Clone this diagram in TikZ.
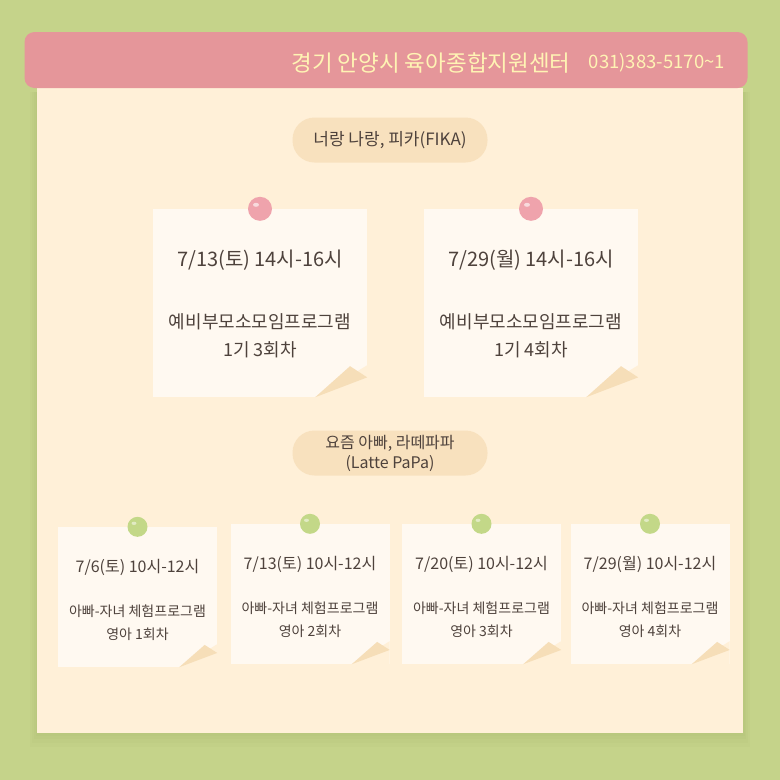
\documentclass[tikz,border=0pt]{standalone}
\usepackage{fontspec}
\setmainfont{Noto Sans CJK KR}
\usetikzlibrary{positioning}

\definecolor{bggreen}{HTML}{C5D38A}
\definecolor{shadowgreen}{HTML}{9FAE62}
\definecolor{panelcol}{HTML}{FFF0D8}
\definecolor{headpink}{HTML}{E5969A}
\definecolor{headtext}{HTML}{FFF4B4}
\definecolor{tagcol}{HTML}{F8E1BE}
\definecolor{notecol}{HTML}{FFF9F1}
\definecolor{foldcol}{HTML}{F6DEB8}
\definecolor{inkcol}{HTML}{4E423C}
\definecolor{pinpinkcol}{HTML}{EFA3AC}
\definecolor{pingreencol}{HTML}{C3D888}

\begin{document}
\begin{tikzpicture}[x=1pt, y=-1pt, node distance=10pt]
\tikzset{header/.style={fill=headpink, rounded corners=10pt, minimum width=723pt, minimum height=56pt},
        headname/.style={text=headtext, font=\fontsize{22.5}{26}\selectfont, inner sep=0pt},
        headphone/.style={text=headtext, font=\fontsize{18.5}{22}\selectfont, inner sep=0pt},
        tag/.style={fill=tagcol, rounded corners=22pt, minimum width=195pt, minimum height=45pt,
          align=center, text=inkcol, font=\fontsize{17}{20}\selectfont},
        bignote/.style={fill=notecol, minimum width=214pt, minimum height=188pt, inner sep=0pt},
        smallnote/.style={fill=notecol, minimum width=159pt, minimum height=140pt, inner sep=0pt},
        bigdate/.style={text=inkcol, font=\fontsize{20}{24}\selectfont, inner sep=0pt},
        bigdesc/.style={text=inkcol, align=center, font=\fontsize{18}{28}\selectfont, inner sep=0pt},
        smalldate/.style={text=inkcol, font=\fontsize{16}{19}\selectfont, inner sep=0pt},
        smalldesc/.style={text=inkcol, align=center, font=\fontsize{14}{23}\selectfont, inner sep=0pt},
        pinpink/.style={circle, fill=pinpinkcol, minimum size=24pt, inner sep=0pt},
        pingreen/.style={circle, fill=pingreencol, minimum size=20pt, inner sep=0pt},
        }
\useasboundingbox (0,0) rectangle (780,780);
\fill[bggreen] (0,0) rectangle (780,780);

% paper with soft shadow
\foreach \s in {14,10,6,3}
  \fill[shadowgreen, opacity=0.07] (37-\s/2,92) rectangle (743+\s/2,733+\s);
\fill[panelcol] (37,88) rectangle (743,733);

% header bar
\node[header] (head) at (386,60) {};
\node[headphone, anchor=east] (phone) at (725,63) {031)383-5170\textasciitilde1};
\node[headname, left=18pt of phone] (center) {경기 안양시 육아종합지원센터};

% FIKA
\node[tag] (fikatag) at (390,140) {너랑 나랑, 피카(FIKA)};
\node[bignote] (fika1) at (260,303) {};
\node[bignote] (fika2) at (531,303) {};

% Latte PaPa
\node[tag, font=\fontsize{16}{20}\selectfont] (papatag) at (390,453) {요즘 아빠, 라떼파파\\(Latte PaPa)};
\node[smallnote] (papa1) at (137.5,597) {};
\node[smallnote] (papa2) at (310,594) {};
\node[smallnote] (papa3) at (481.5,594) {};
\node[smallnote] (papa4) at (650,594) {};

% folded corners
\foreach \n/\w/\h in {fika1/52/32, fika2/52/32, papa1/38/23, papa2/38/23, papa3/38/23, papa4/38/23} {
  \fill[panelcol] ([xshift=-\w pt]\n.south east) -- ([yshift=\h pt]\n.south east) -- (\n.south east) -- cycle;
  \fill[foldcol] ([xshift=-\w pt]\n.south east) -- ([xshift=-0.33*\w pt, yshift=0.97*\h pt]\n.south east)
    .. controls ([xshift=-0.18*\w pt, yshift=0.8*\h pt]\n.south east) .. ([yshift=0.62*\h pt]\n.south east) -- cycle;
}

% pins
\node[pinpink] (fika1pin) at (fika1.north) {};
\node[pinpink] (fika2pin) at (fika2.north) {};
\foreach \n in {papa1,papa2,papa3,papa4}
  \node[pingreen] (\n pin) at (\n.north) {};
\foreach \n in {fika1pin,fika2pin}
  \fill[white, opacity=0.6] ([xshift=-4pt, yshift=4pt]\n.center) ellipse (3pt and 2pt);
\foreach \n in {papa1pin,papa2pin,papa3pin,papa4pin}
  \fill[white, opacity=0.5] ([xshift=-3.5pt, yshift=3.5pt]\n.center) ellipse (2.5pt and 1.6pt);

% texts
\node[bigdate, below=41pt of fika1.north] (fika1date) {7/13(토) 14시-16시};
\node[bigdesc, below=43pt of fika1date] (fika1desc) {예비부모소모임프로그램\\1기 3회차};
\node[bigdate, below=41pt of fika2.north] (fika2date) {7/29(월) 14시-16시};
\node[bigdesc, below=43pt of fika2date] (fika2desc) {예비부모소모임프로그램\\1기 4회차};

\node[smalldate, below=32pt of papa1.north] (papa1date) {7/6(토) 10시-12시};
\node[smalldesc, below=29pt of papa1date] (papa1desc) {아빠-자녀 체험프로그램\\영아 1회차};
\node[smalldate, below=32pt of papa2.north] (papa2date) {7/13(토) 10시-12시};
\node[smalldesc, below=29pt of papa2date] (papa2desc) {아빠-자녀 체험프로그램\\영아 2회차};
\node[smalldate, below=32pt of papa3.north] (papa3date) {7/20(토) 10시-12시};
\node[smalldesc, below=29pt of papa3date] (papa3desc) {아빠-자녀 체험프로그램\\영아 3회차};
\node[smalldate, below=32pt of papa4.north] (papa4date) {7/29(월) 10시-12시};
\node[smalldesc, below=29pt of papa4date] (papa4desc) {아빠-자녀 체험프로그램\\영아 4회차};

\end{tikzpicture}
\end{document}
